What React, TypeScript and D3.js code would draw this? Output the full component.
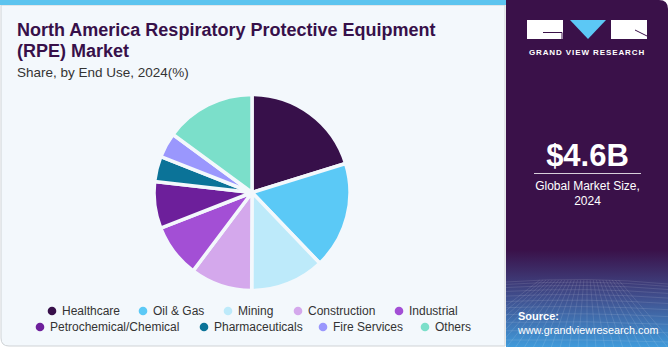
import React from "react";
import * as d3 from "d3";

const categories = [
  "Healthcare",
  "Oil & Gas",
  "Mining",
  "Construction",
  "Industrial",
  "Petrochemical/Chemical",
  "Pharmaceuticals",
  "Fire Services",
  "Others",
];
const shares = [20.2, 17.6, 12.2, 10.2, 8.8, 7.7, 4.2, 4.1, 14.9];
const colors = [
  "#37104a",
  "#5bc9f6",
  "#bdeafa",
  "#d4a8ec",
  "#a34fd5",
  "#6d1f9b",
  "#0b7398",
  "#9a97fd",
  "#7bdfca",
];
const legendRows = [
  [0, 1, 2, 3, 4],
  [5, 6, 7, 8],
];
const legendX = [
  [52, 143, 228, 298, 399],
  [40, 204, 323, 425],
];

const W = 670;
const H = 350;

export default function App() {
  const cx = 252;
  const cy = 192.5;
  const r = 98;
  const pie = d3
    .pie<number>()
    .sort(null)
    .value((d) => d)
    .startAngle(0)
    .endAngle(2 * Math.PI);
  const arcs = pie(shares);
  const arc = d3.arc<d3.PieArcDatum<number>>().innerRadius(0).outerRadius(r);

  const font = "'Liberation Sans', Arial, sans-serif";

  // decorative grid in right panel bottom
  const gridLines: string[] = [];
  for (let i = 0; i < 14; i++) {
    const y = 282 + i * i * 0.38 + i * 2;
    gridLines.push(`M506,${y} Q587,${y - 6 + i * 0.5} 668,${y + 2}`);
  }
  for (let i = -6; i < 20; i++) {
    const x0 = 506 + i * 9;
    gridLines.push(`M${587 + (x0 - 587) * 0.35},280 L${x0},348`);
  }

  return (
    <svg
      width={W}
      height={H}
      style={{ position: "absolute", left: 0, top: 0, display: "block" }}
      fontFamily={font}
    >
      <defs>
        <linearGradient id="rp" x1="0" y1="0" x2="0" y2="1">
          <stop offset="0" stopColor="#3a1149" />
          <stop offset="0.72" stopColor="#3a1149" />
          <stop offset="0.86" stopColor="#40508f" />
          <stop offset="1" stopColor="#409ada" />
        </linearGradient>
        <clipPath id="rpclip">
          <rect x={506} y={275} width={162} height={72} />
        </clipPath>
      </defs>
      <rect x={0} y={0} width={W} height={H} fill="#ffffff" />
      {/* left panel */}
      <path
        d="M1,5 L505,5 L505,346 L9,346 Q1,346 1,338 Z"
        fill="#f3f8fc"
        stroke="#cfd3d6"
        strokeWidth={1}
      />
      <rect x={0} y={0} width={506} height={5} fill="#5cc4ef" />
      {/* right panel */}
      <path
        d="M506,0 L659,0 Q668,0 668,9 L668,347 L506,347 Z"
        fill="url(#rp)"
      />
      <g clipPath="url(#rpclip)" stroke="#ffffff" strokeOpacity={0.16} fill="none" strokeWidth={0.7}>
        {gridLines.map((d, i) => (
          <path key={i} d={d} />
        ))}
      </g>

      {/* title */}
      <text x={17} y={36} fontSize={18} fontWeight={700} fill="#37104a">
        North America Respiratory Protective Equipment
      </text>
      <text x={17} y={57} fontSize={18} fontWeight={700} fill="#37104a">
        (RPE) Market
      </text>
      <text x={17} y={77} fontSize={13.5} fill="#333333">
        Share, by End Use, 2024(%)
      </text>

      {/* pie */}
      <g transform={`translate(${cx},${cy})`}>
        {arcs.map((a, i) => (
          <path
            key={categories[i]}
            d={arc(a) || ""}
            fill={colors[i]}
            stroke="#f3f8fc"
            strokeWidth={3.5}
            strokeLinejoin="round"
          />
        ))}
      </g>

      {/* legend */}
      {legendRows.map((row, ri) =>
        row.map((ci, k) => (
          <g key={ci} transform={`translate(${legendX[ri][k]},${ri === 0 ? 311 : 327})`}>
            <circle cx={0} cy={0} r={4.3} fill={colors[ci]} />
            <text x={10} y={4.3} fontSize={12} fill="#333333">
              {categories[ci]}
            </text>
          </g>
        ))
      )}

      {/* logo */}
      <rect x={527} y={20} width={36} height={19} fill="#ffffff" />
      <path d="M543,32.5 L562,32.5 L562,39" stroke="#3a1149" strokeWidth={1} fill="none" />
      <path d="M570,20 L606,20 L588,39 Z" fill="#5cc8f5" />
      <rect x={611} y={20} width={36} height={19} fill="#ffffff" />
      <path d="M635,30 L647,36" stroke="#3a1149" strokeWidth={1} fill="none" />
      <text
        x={587}
        y={54.5}
        fontSize={8}
        fontWeight={700}
        fill="#ffffff"
        textAnchor="middle"
        letterSpacing={0.9}
      >
        GRAND VIEW RESEARCH
      </text>

      {/* market size */}
      <text x={587.5} y={166} fontSize={31} fontWeight={700} fill="#ffffff" textAnchor="middle">
        $4.6B
      </text>
      <line x1={534} x2={641} y1={173.5} y2={173.5} stroke="#ffffff" strokeOpacity={0.8} strokeWidth={1} />
      <text x={587.5} y={190} fontSize={12} fill="#ffffff" textAnchor="middle">
        Global Market Size,
      </text>
      <text x={587.5} y={205} fontSize={12} fill="#ffffff" textAnchor="middle">
        2024
      </text>

      {/* source */}
      <text x={518} y={320} fontSize={11} fontWeight={700} fill="#ffffff">
        Source:
      </text>
      <text x={518} y={334} fontSize={10.8} fill="#ffffff">
        www.grandviewresearch.com
      </text>
    </svg>
  );
}
